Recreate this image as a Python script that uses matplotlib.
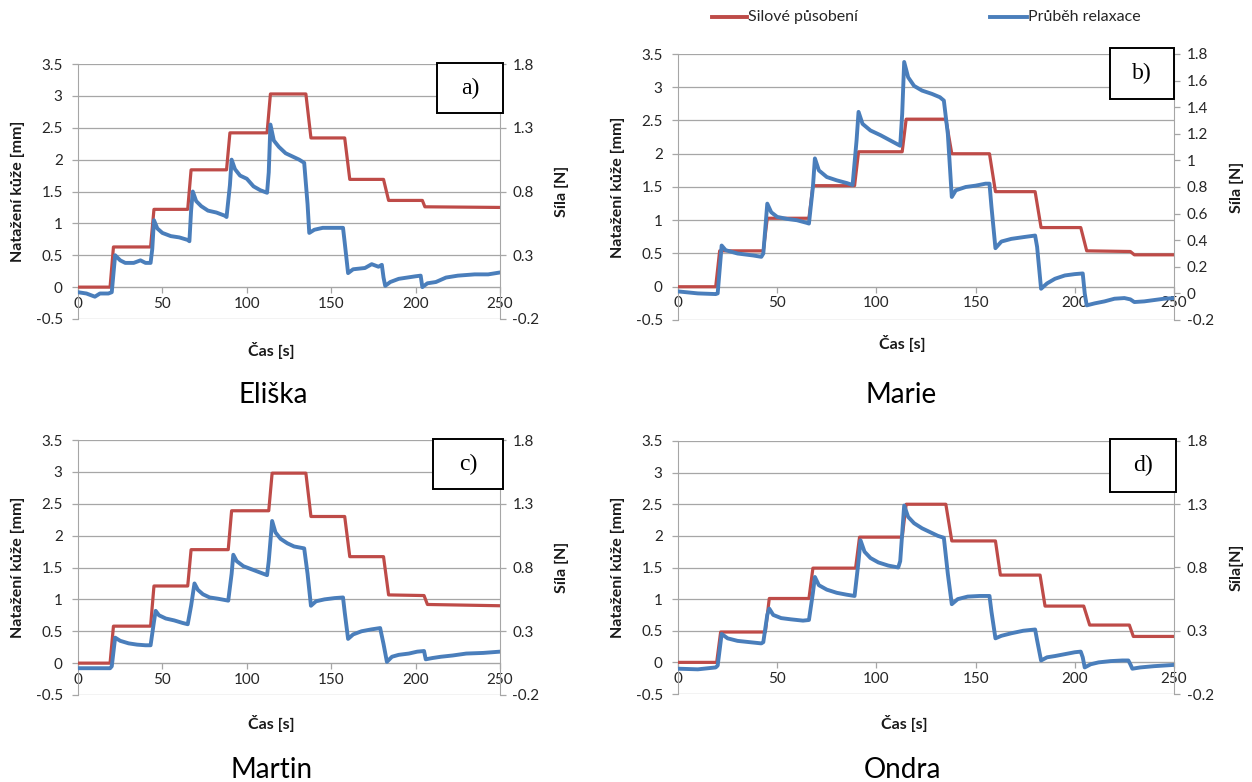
import numpy as np
import matplotlib
matplotlib.use("Agg")
import matplotlib.pyplot as plt
from matplotlib.patches import Rectangle
from matplotlib.lines import Line2D

plt.rcParams['font.family'] = ['Lato', 'DejaVu Sans']

# --- data (left-axis units) ---
# a) Eliska
a_red_t = [0, 19, 21, 43, 45, 65, 67, 88, 90, 112, 114, 135, 138, 158, 161, 181, 184, 204, 205.5, 250]
a_red_v = [0, 0, 0.63, 0.63, 1.22, 1.22, 1.84, 1.84, 2.42, 2.42, 3.03, 3.03, 2.34, 2.34, 1.69, 1.69, 1.36, 1.36, 1.26, 1.25]
a_blue_t = [0, 5, 10, 13, 18, 20, 22, 25, 28, 33, 37, 40, 43, 44, 45, 47, 50, 55, 60, 65, 66, 67, 68, 70, 73, 77,
            82, 87, 88, 90, 91, 93, 96, 100, 104, 108, 112, 113, 114, 116, 119, 123, 127, 131, 134, 136, 137, 140,
            145, 150, 157, 158, 160, 163, 170, 174, 178, 180, 181, 182, 185, 190, 195, 200, 203, 204, 207, 212,
            218, 225, 235, 243, 250]
a_blue_v = [-0.08, -0.1, -0.15, -0.1, -0.1, -0.08, 0.5, 0.42, 0.38, 0.38, 0.42, 0.38, 0.38, 0.6, 1.05, 0.92, 0.85,
            0.8, 0.78, 0.74, 0.72, 1.2, 1.5, 1.35, 1.27, 1.2, 1.17, 1.12, 1.1, 1.6, 2.0, 1.85, 1.75, 1.7, 1.58,
            1.52, 1.48, 1.8, 2.55, 2.3, 2.2, 2.1, 2.05, 2.0, 1.95, 1.3, 0.85, 0.9, 0.93, 0.93, 0.93, 0.7, 0.22,
            0.28, 0.3, 0.36, 0.32, 0.35, 0.15, 0.02, 0.08, 0.13, 0.15, 0.17, 0.18, 0.0, 0.06, 0.08, 0.15, 0.18,
            0.2, 0.2, 0.23]

# b) Marie
b_red_t = [0, 19, 21, 43, 45, 66, 68, 89, 91, 113, 115, 135, 138, 157, 160, 180, 183, 203, 206, 228, 230, 250]
b_red_v = [0, 0, 0.54, 0.54, 1.03, 1.03, 1.52, 1.52, 2.03, 2.03, 2.52, 2.52, 2.0, 2.0, 1.43, 1.43, 0.89, 0.89,
           0.54, 0.53, 0.48, 0.48]
b_blue_t = [0, 10, 19, 20, 22, 24, 30, 38, 42, 43, 45, 47, 50, 55, 60, 65, 66, 68, 69, 71, 75, 80, 85, 88, 90,
            91, 93, 97, 102, 107, 112, 113, 114, 116, 119, 123, 128, 132, 134, 136, 138, 140, 145, 150, 155, 157,
            158, 160, 163, 168, 175, 180, 181, 183, 186, 190, 195, 200, 204, 205, 206, 210, 215, 220, 225, 228,
            230, 235, 240, 245, 250]
b_blue_v = [-0.07, -0.1, -0.11, -0.1, 0.62, 0.55, 0.5, 0.47, 0.45, 0.5, 1.25, 1.12, 1.05, 1.02, 1.0, 0.96, 0.95,
            1.5, 1.93, 1.75, 1.65, 1.6, 1.56, 1.53, 2.2, 2.63, 2.45, 2.35, 2.28, 2.2, 2.12, 2.6, 3.38, 3.15, 3.02,
            2.95, 2.9, 2.85, 2.8, 2.3, 1.35, 1.45, 1.5, 1.52, 1.55, 1.55, 1.2, 0.58, 0.68, 0.72, 0.75, 0.77, 0.6,
            -0.03, 0.05, 0.12, 0.17, 0.19, 0.2, -0.1, -0.28, -0.25, -0.22, -0.18, -0.17, -0.19, -0.23, -0.22,
            -0.2, -0.18, -0.17]

# c) Martin
c_red_t = [0, 19, 21, 43, 45, 65, 67, 89, 91, 113, 115, 135, 138, 158, 161, 181, 184, 205, 207, 250]
c_red_v = [0, 0, 0.58, 0.58, 1.21, 1.21, 1.78, 1.78, 2.39, 2.39, 2.98, 2.98, 2.3, 2.3, 1.67, 1.67, 1.07, 1.06,
           0.92, 0.9]
c_blue_t = [0, 19, 20, 22, 25, 30, 35, 40, 43, 45, 46, 48, 52, 57, 62, 65, 67, 69, 71, 74, 78, 83, 89, 91, 92,
            94, 98, 103, 108, 112, 113, 115, 117, 120, 124, 128, 134, 136, 138, 141, 146, 152, 157, 158, 160, 163,
            168, 174, 179, 181, 183, 186, 190, 196, 201, 205, 206, 210, 215, 222, 230, 240, 250]
c_blue_v = [-0.08, -0.08, -0.05, 0.4, 0.35, 0.31, 0.29, 0.28, 0.28, 0.65, 0.82, 0.75, 0.7, 0.67, 0.63, 0.61, 0.9,
            1.25, 1.15, 1.08, 1.03, 1.01, 0.98, 1.4, 1.7, 1.6, 1.52, 1.47, 1.42, 1.38, 1.6, 2.23, 2.05, 1.95, 1.88,
            1.83, 1.8, 1.4, 0.9, 0.97, 1.0, 1.02, 1.03, 0.8, 0.38, 0.45, 0.5, 0.53, 0.55, 0.3, 0.02, 0.1, 0.13,
            0.15, 0.18, 0.19, 0.06, 0.08, 0.1, 0.12, 0.15, 0.16, 0.18]

# d) Ondra
d_red_t = [0, 19.5, 21.5, 44, 46, 66, 68, 89.5, 91.5, 113, 115, 135, 138, 160, 162.5, 182.5, 185, 204.5, 207.5,
           227.5, 229.5, 250]
d_red_v = [0, 0, 0.48, 0.48, 1.01, 1.01, 1.49, 1.49, 1.98, 1.98, 2.5, 2.5, 1.92, 1.92, 1.38, 1.38, 0.89, 0.89,
           0.59, 0.59, 0.41, 0.41]
d_blue_t = [0, 10, 19, 20, 22, 25, 30, 36, 42, 43, 45, 46, 48, 52, 57, 63, 66, 68, 69, 71, 75, 80, 85, 89, 91, 92,
            94, 97, 101, 106, 111, 112, 114, 116, 119, 123, 127, 131, 134, 136, 138, 141, 146, 152, 157, 158, 160,
            163, 168, 174, 180, 181, 183, 186, 190, 195, 200, 203, 204, 205, 208, 212, 218, 224, 227, 228, 229,
            233, 240, 245, 250]
d_blue_v = [-0.1, -0.11, -0.08, -0.05, 0.45, 0.38, 0.34, 0.32, 0.3, 0.32, 0.75, 0.85, 0.75, 0.7, 0.68, 0.66, 0.67,
            1.1, 1.35, 1.22, 1.15, 1.1, 1.07, 1.05, 1.6, 1.93, 1.75, 1.65, 1.58, 1.53, 1.5, 1.6, 2.48, 2.3, 2.2,
            2.12, 2.06, 2.0, 1.97, 1.4, 0.92, 1.0, 1.04, 1.05, 1.05, 0.8, 0.38, 0.42, 0.46, 0.5, 0.52, 0.35, 0.03,
            0.08, 0.1, 0.13, 0.16, 0.17, 0.08, -0.08, -0.03, 0.0, 0.02, 0.03, 0.03, -0.03, -0.1, -0.08, -0.06,
            -0.05, -0.04]

left_ticks = [-0.5, 0, 0.5, 1, 1.5, 2, 2.5, 3, 3.5]
left_labels = ["-0.5", "0", "0.5", "1", "1.5", "2", "2.5", "3", "3.5"]
right_ticks_wide = [-0.2, 0.3, 0.8, 1.3, 1.8]
right_labels_wide = ["-0.2", "0.3", "0.8", "1.3", "1.8"]
right_ticks_fine = [-0.2, 0, 0.2, 0.4, 0.6, 0.8, 1.0, 1.2, 1.4, 1.6, 1.8]
right_labels_fine = ["-0.2", "0", "0.2", "0.4", "0.6", "0.8", "1", "1.2", "1.4", "1.6", "1.8"]
x_ticks = [0, 50, 100, 150, 200, 250]
series_names = ["Silové působení", "Průběh relaxace"]

RED = "#be4b48"
BLUE = "#4a7ebb"
GRID = "#a6a6a6"
TXT = "#262626"
W, H = 1252, 782

fig = plt.figure(figsize=(12.52, 7.82), dpi=100)


def box(x0, y0, x1, y1):
    # pixel box (top-left origin) -> figure fraction [l, b, w, h]
    return [x0 / W, 1 - y1 / H, (x1 - x0) / W, (y1 - y0) / H]


def fx(x):
    return x / W


def fy(y):
    return 1 - y / H


panels = [
    dict(pos=(78, 64, 500, 319), red=(a_red_t, a_red_v), blue=(a_blue_t, a_blue_v), fine=False,
         tag="a)", tagbox=(437, 63, 503, 113), yl=18, rl=562, rlab="Síla [N]", xl=(271, 350),
         name="Eliška", nm=(273, 403)),
    dict(pos=(678, 54, 1174, 320), red=(b_red_t, b_red_v), blue=(b_blue_t, b_blue_v), fine=True,
         tag="b)", tagbox=(1110, 48, 1174, 99), yl=618, rl=1237, rlab="Síla [N]", xl=(902, 343),
         name="Marie", nm=(901, 403)),
    dict(pos=(78, 440, 500, 695), red=(c_red_t, c_red_v), blue=(c_blue_t, c_blue_v), fine=False,
         tag="c)", tagbox=(433, 439, 503, 489), yl=18, rl=562, rlab="Síla [N]", xl=(271, 723),
         name="Martin", nm=(272, 778)),
    dict(pos=(678, 441, 1174, 694), red=(d_red_t, d_red_v), blue=(d_blue_t, d_blue_v), fine=False,
         tag="d)", tagbox=(1110, 439, 1176, 492), yl=618, rl=1237, rlab="Síla[N]", xl=(904, 723),
         name="Ondra", nm=(902, 778)),
]

for p in panels:
    ax = fig.add_axes(box(*p["pos"]))
    ax.plot(p["red"][0], p["red"][1], color=RED, lw=2.3, solid_joinstyle="round", zorder=3)
    ax.plot(p["blue"][0], p["blue"][1], color=BLUE, lw=2.8, solid_joinstyle="round", zorder=4)
    ax.set_xlim(0, 250)
    ax.set_ylim(-0.5, 3.5)
    ax.set_yticks(left_ticks)
    ax.set_yticklabels(left_labels)
    ax.set_xticks(x_ticks)
    ax.grid(axis="y", color=GRID, lw=0.9)
    ax.set_axisbelow(True)
    for s in ["top", "right"]:
        ax.spines[s].set_visible(False)
    ax.spines["left"].set_color(GRID)
    ax.spines["bottom"].set_color(GRID)
    ax.spines["bottom"].set_position(("data", 0))
    ax.tick_params(axis="y", direction="out", length=4, width=0.9, color=GRID, pad=7,
                   labelsize=11, labelcolor=TXT)
    ax.tick_params(axis="x", direction="out", length=4, width=0.9, color=GRID, pad=3,
                   labelsize=11, labelcolor=TXT)

    ax2 = ax.twinx()
    ax2.set_ylim(-0.2, 1.8)
    if p["fine"]:
        ax2.set_yticks(right_ticks_fine)
        ax2.set_yticklabels(right_labels_fine)
    else:
        ax2.set_yticks(right_ticks_wide)
        ax2.set_yticklabels(right_labels_wide)
    for s in ["top", "left", "bottom"]:
        ax2.spines[s].set_visible(False)
    ax2.spines["right"].set_color(GRID)
    ax2.tick_params(axis="y", direction="out", length=4, width=0.9, color=GRID, pad=5,
                    labelsize=11, labelcolor=TXT)

    # labels
    x0, y0, x1, y1 = p["pos"]
    cy = (y0 + y1) / 2
    fig.text(fx(p["yl"]), fy(cy), "Natažení kůže [mm]", rotation=90, ha="center", va="center",
             fontsize=11.5, fontweight="bold", color="#1a1a1a")
    fig.text(fx(p["rl"]), fy(cy), p["rlab"], rotation=90, ha="center", va="center",
             fontsize=11.5, fontweight="bold", color="#1a1a1a")
    fig.text(fx(p["xl"][0]), fy(p["xl"][1]), "Čas [s]", ha="center", va="center",
             fontsize=11.5, fontweight="bold", color="#1a1a1a")
    fig.text(fx(p["nm"][0]), fy(p["nm"][1]), p["name"], ha="center", va="baseline",
             fontsize=20, color="black")

    # tag box
    bx0, by0, bx1, by1 = p["tagbox"]
    l, b, w, h = box(bx0, by0, bx1, by1)
    fig.add_artist(Rectangle((l, b), w, h, transform=fig.transFigure, facecolor="white",
                             edgecolor="black", lw=1.4, zorder=10))
    fig.text(l + w / 2, b + h / 2, p["tag"], ha="center", va="center", fontsize=17,
             family="Liberation Serif", zorder=11)

# legend at top, drawn by hand to hit the spacing of the original
for (x0, x1), col, name in zip([(712, 747), (990, 1027)], [RED, BLUE], series_names):
    fig.add_artist(Line2D([fx(x0), fx(x1)], [fy(17), fy(17)], color=col, lw=2.8,
                          transform=fig.transFigure))
    fig.text(fx(x1 + 1), fy(17), name, ha="left", va="center", fontsize=11.5, color=TXT)

fig.savefig("out.png", dpi=100)
